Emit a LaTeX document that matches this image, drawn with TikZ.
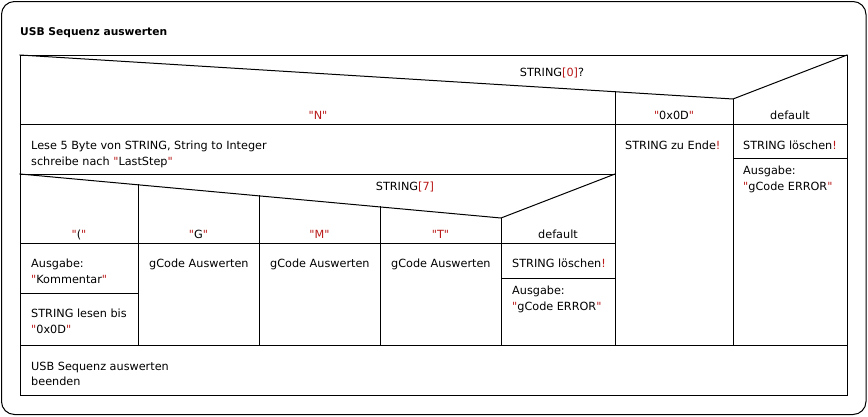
\documentclass[tikz,border=0pt]{standalone}
\usepackage{fontspec}
\setmainfont{DejaVu Sans}[Ligatures=TeXOff]
\definecolor{kwred}{RGB}{185,25,25}
\newcommand{\R}[1]{\textcolor{kwred}{#1}}
\newcommand{\Q}{\textcolor{kwred}{"}}
\begin{document}
\begin{tikzpicture}[x=1pt,y=-1pt,
  ln/.style={line width=1pt,line cap=rect},
  tx/.style={inner sep=0pt,anchor=base west,font=\fontsize{11.25}{13}\selectfont},
  tc/.style={inner sep=0pt,anchor=base,font=\fontsize{11.25}{13}\selectfont}]
\useasboundingbox (0,0) rectangle (868,416);
% outer frame
\draw[line width=1pt,rounded corners=13pt] (1.5,1.5) rectangle (866,414.5);
\node[inner sep=0pt,anchor=base west,font=\bfseries\fontsize{10.7}{13}\selectfont] (title) at (20,35) {USB Sequenz auswerten};
% main box
\draw[ln] (20,55) rectangle (847,395);
% outer case header
\draw[ln] (20,55) -- (733,99) -- (847,55);
\draw[ln] (615,91.72) -- (615,345);
\draw[ln] (733,99) -- (733,345);
\draw[ln] (20,124) -- (847,124);
\draw[ln] (20,174) -- (615,174);
\draw[ln] (733,158) -- (847,158);
% nested case
\draw[ln] (20,174) -- (501,218) -- (615,174);
\draw[ln] (138,184.8) -- (138,345);
\draw[ln] (259,195.9) -- (259,345);
\draw[ln] (380,206.9) -- (380,345);
\draw[ln] (501,218) -- (501,345);
\draw[ln] (20,243) -- (615,243);
\draw[ln] (20,293) -- (138,293);
\draw[ln] (501,278) -- (615,278);
\draw[ln] (20,345) -- (847,345);
% texts outer header
\node[tc] (q0) at (552,76) {STRING\R{[0]}?};
\node[tc] (cN) at (318,119.5) {\Q\R{N}\Q};
\node[tc] (c0D) at (674,119.5) {\Q 0x0D\Q};
\node[tc] (cdef) at (790,119.5) {default};
% row 1
\node[tx] (lese1) at (31,149.5) {Lese 5 Byte von STRING, String to Integer};
\node[tx] (lese2) at (31,165) {schreibe nach \Q LastStep\Q};
\node[tx] (ende) at (625,149.5) {STRING zu Ende\R{!}};
\node[tx] (del1) at (743,149.5) {STRING löschen\R{!}};
\node[tx] (aus1a) at (743,174.5) {Ausgabe:};
\node[tx] (aus1b) at (743,190) {\Q gCode ERROR\Q};
% nested header
\node[tc] (q7) at (405,190.5) {STRING\R{[7]}};
\node[tc] (cpar) at (79,238.5) {\Q(\Q};
\node[tc] (cG) at (198.5,238.5) {\Q G\Q};
\node[tc] (cM) at (319.5,238.5) {\Q\R{M}\Q};
\node[tc] (cT) at (440.5,238.5) {\Q\R{T}\Q};
\node[tc] (cdef2) at (558,238.5) {default};
% nested body
\node[tx] (kom1) at (31,267.5) {Ausgabe:};
\node[tx] (kom2) at (31,283) {\Q Kommentar\Q};
\node[tx] (les1) at (31,317.5) {STRING lesen bis};
\node[tx] (les2) at (31,333) {\Q 0x0D\Q};
\node[tx] (gG) at (149,267.5) {gCode Auswerten};
\node[tx] (gM) at (270,267.5) {gCode Auswerten};
\node[tx] (gT) at (391,267.5) {gCode Auswerten};
\node[tx] (del2) at (512,267.5) {STRING löschen\R{!}};
\node[tx] (aus2a) at (512,294.5) {Ausgabe:};
\node[tx] (aus2b) at (512,310) {\Q gCode ERROR\Q};
% last row
\node[tx] (end1) at (31,370) {USB Sequenz auswerten};
\node[tx] (end2) at (31,385.5) {beenden};
\end{tikzpicture}
\end{document}
